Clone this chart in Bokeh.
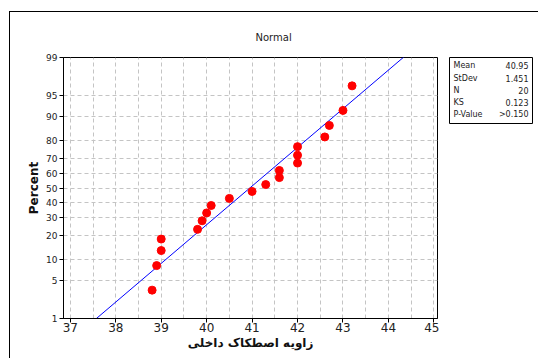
from statistics import NormalDist
from bokeh.plotting import figure
from bokeh.layouts import row
from bokeh.models import Range1d, FixedTicker, Title, ColumnDataSource
from bokeh.core.properties import value
from bokeh.embed import file_html
from bokeh.resources import INLINE

# ---- data ----
values = [38.8, 38.9, 39.0, 39.0, 39.8, 39.9, 40.0, 40.1, 40.5, 41.0,
          41.3, 41.6, 41.6, 42.0, 42.0, 42.0, 42.6, 42.7, 43.0, 43.2]
percents = [3.43, 8.33, 13.24, 18.14, 23.04, 27.94, 32.84, 37.75, 42.65, 47.55,
            52.45, 57.35, 62.25, 67.16, 72.06, 76.96, 81.86, 86.76, 91.67, 96.57]
y_tick_labels = [1, 5, 10, 20, 30, 40, 50, 60, 70, 80, 90, 95, 99]
x_ticks = [37, 38, 39, 40, 41, 42, 43, 44, 45]
mean, stdev, n = 40.95, 1.451, 20
stat_names = ["Mean", "StDev", "N", "KS", "P-Value"]
stat_values = ["40.95", "1.451", "20", "0.123", ">0.150"]

nd = NormalDist()
def probit(pct):
    return nd.inv_cdf(pct / 100.0)

zlo, zhi = probit(1), probit(99)
FONT = "DejaVu Sans"
TOP = 45

p = figure(frame_width=374, frame_height=261, output_backend="svg", toolbar_location=None,
           x_range=Range1d(36.85, 45.08), y_range=Range1d(zlo, zhi),
           min_border_left=53, min_border_right=2, min_border_top=TOP, min_border_bottom=40,
           background_fill_color="white", border_fill_color="white")

p.outline_line_color = "black"
p.outline_line_width = 1

# axes
p.xaxis.ticker = FixedTicker(ticks=x_ticks)
p.xaxis.minor_tick_line_color = None
p.xaxis.major_tick_out = 4
p.xaxis.major_tick_in = 0
p.xaxis.major_label_standoff = 0
p.xaxis.major_label_text_font = FONT
p.xaxis.major_label_text_font_size = "12px"
p.xaxis.major_label_text_color = "#222222"
p.xaxis.axis_label = "زاویه اصطکاک داخلی"
p.xaxis.axis_label_text_font = FONT
p.xaxis.axis_label_text_font_size = "12px"
p.xaxis.axis_label_text_font_style = "bold"
p.xaxis.axis_label_text_color = "#111111"
p.xaxis.axis_label_standoff = 1

yt = [probit(v) for v in y_tick_labels]
p.yaxis.ticker = FixedTicker(ticks=yt)
p.yaxis.major_label_overrides = {t: str(v) for t, v in zip(yt, y_tick_labels)}
p.yaxis.minor_tick_line_color = None
p.yaxis.major_tick_out = 4
p.yaxis.major_tick_in = 0
p.yaxis.major_label_standoff = 2
p.yaxis.major_label_text_font = FONT
p.yaxis.major_label_text_font_size = "9px"
p.yaxis.major_label_text_color = "#222222"
p.yaxis.axis_label = "Percent"
p.yaxis.axis_label_text_font = FONT
p.yaxis.axis_label_text_font_size = "12px"
p.yaxis.axis_label_text_font_style = "bold"
p.yaxis.axis_label_text_color = "#111111"
p.yaxis.axis_label_standoff = 2
for ax in (p.xaxis, p.yaxis):
    ax.axis_line_color = "black"
    ax.major_tick_line_color = "black"

# grids
p.xgrid.ticker = FixedTicker(ticks=[37 + 0.5 * i for i in range(17)])
p.ygrid.ticker = FixedTicker(ticks=yt)
for g in (p.xgrid, p.ygrid):
    g.grid_line_color = "#c4c4c4"
    g.grid_line_dash = "4 3"
    g.grid_line_width = 1

# fitted line from mean/stdev
lx = [p.x_range.start - 1, p.x_range.end + 1]
ly = [(v - mean) / stdev for v in lx]
p.line(lx, ly, line_color="blue", line_width=1)

src = ColumnDataSource(dict(x=values, z=[probit(v) for v in percents]))
p.scatter("x", "z", source=src, size=8, fill_color="red", line_color="red")

# title
t = Title(text="Normal", align="left", offset=192, text_font=FONT,
          text_font_size="10px", text_font_style="normal", text_color="#222222", standoff=30)
p.add_layout(t, "above")

# stats box as its own small panel
BOX_W, BOX_H = 83, 66
s = figure(frame_width=BOX_W, frame_height=BOX_H, output_backend="svg", toolbar_location=None,
           x_range=Range1d(0, BOX_W), y_range=Range1d(BOX_H, 0),
           x_axis_type=None, y_axis_type=None,
           min_border_left=10, min_border_right=6, min_border_top=TOP, min_border_bottom=4,
           background_fill_color="white", border_fill_color="white")
s.grid.visible = False
s.outline_line_color = "black"
s.outline_line_width = 1
rows_y = [8, 21, 33, 45, 57]
s.text(x=[4] * len(stat_names), y=rows_y, text=stat_names, text_font=value(FONT),
       text_font_size="8px", text_color="#222222", text_align="left", text_baseline="middle")
s.text(x=[BOX_W - 4] * len(stat_values), y=rows_y, text=stat_values, text_font=value(FONT),
       text_font_size="8px", text_color="#222222", text_align="right", text_baseline="middle")

lay = row(p, s)
lay.styles = {"border-left": "1px solid black", "border-top": "1px solid black",
              "margin-left": "9px", "margin-top": "11px"}

open("out.html", "w").write(file_html(lay, INLINE))
